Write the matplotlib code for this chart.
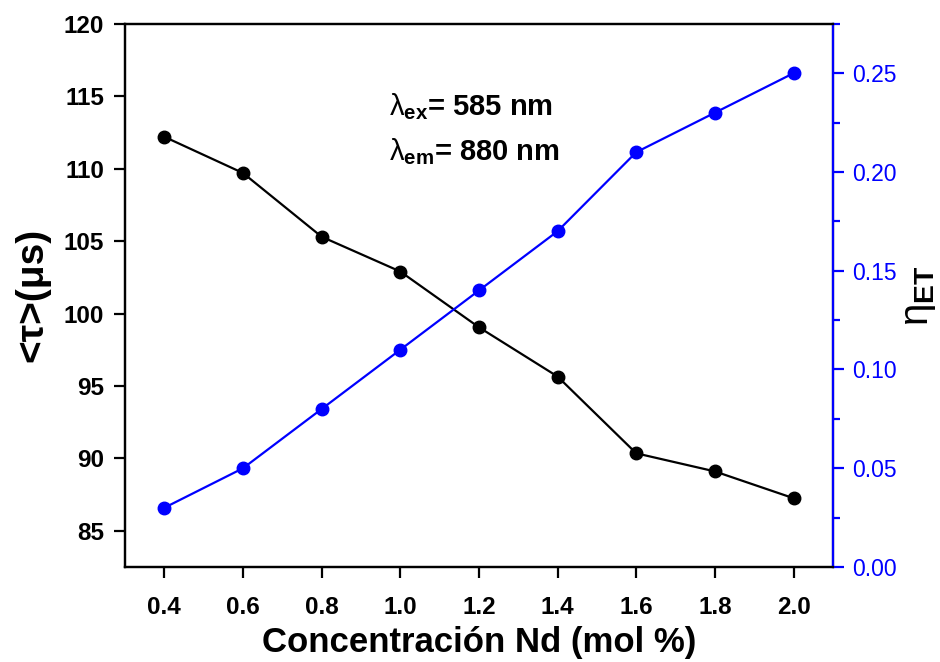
import matplotlib
matplotlib.use('Agg')
import matplotlib.pyplot as plt
from matplotlib.ticker import MultipleLocator

plt.rcParams['font.family'] = ['Liberation Sans', 'DejaVu Sans']
plt.rcParams['mathtext.fontset'] = 'custom'
plt.rcParams['mathtext.rm'] = 'Liberation Sans'
plt.rcParams['mathtext.it'] = 'Liberation Sans'
plt.rcParams['mathtext.bf'] = 'Liberation Sans:bold'

conc = [0.4, 0.6, 0.8, 1.0, 1.2, 1.4, 1.6, 1.8, 2.0]
tau = [112.2, 109.7, 105.3, 102.9, 99.05, 95.65, 90.35, 89.1, 87.25]
eta = [0.03, 0.05, 0.08, 0.11, 0.14, 0.17, 0.21, 0.23, 0.25]

fig = plt.figure(figsize=(9.4, 6.62), dpi=100)
ax = fig.add_axes([0.133, 0.1435, 0.753, 0.8205])
ax2 = ax.twinx()

ax.plot(conc, tau, '-o', color='black', lw=1.6, ms=9)
ax2.plot(conc, eta, '-o', color='blue', lw=1.6, ms=9)

ax.set_xlim(0.3, 2.1)
ax.set_ylim(82.5, 120)
ax2.set_ylim(0, 0.275)
ax.set_xticks(conc)
ax.set_yticks([85, 90, 95, 100, 105, 110, 115, 120])
ax2.set_yticks([0, 0.05, 0.1, 0.15, 0.2, 0.25])
ax2.yaxis.set_minor_locator(MultipleLocator(0.025))
ax2.set_yticklabels(['0.00', '0.05', '0.10', '0.15', '0.20', '0.25'])

for sp in ax.spines.values():
    sp.set_linewidth(1.6)
for sp in ax2.spines.values():
    sp.set_linewidth(1.6)
ax2.spines['right'].set_color('blue')

ax.tick_params(axis='both', direction='out', length=8, width=1.6, labelsize=17.5, pad=7)
for lab in ax.get_xticklabels() + ax.get_yticklabels():
    lab.set_fontweight('bold')
ax.tick_params(axis='x', pad=13)
ax2.tick_params(axis='y', which='major', direction='out', length=8, width=1.6,
                colors='blue', labelsize=16.5, pad=6)
ax2.tick_params(axis='y', which='minor', direction='out', length=5, width=1.6, colors='blue')

ax.set_xlabel('Concentración Nd (mol %)', fontsize=25, fontweight='bold', labelpad=5)
ax.set_ylabel('<τ>(μs)', fontsize=28, fontweight='bold', labelpad=10)
ax2.set_ylabel(r'$\mathrm{\eta}_{\mathbf{ET}}$', fontsize=29, labelpad=2)

ax.text(0.373, 0.847, r'$\mathrm{\lambda}_{\mathbf{ex}}$= 585 nm', transform=ax.transAxes,
        fontsize=21, fontweight='bold', va='center')
ax.text(0.373, 0.764, r'$\mathrm{\lambda}_{\mathbf{em}}$= 880 nm', transform=ax.transAxes,
        fontsize=21, fontweight='bold', va='center')

fig.savefig('out.png', dpi=100)
